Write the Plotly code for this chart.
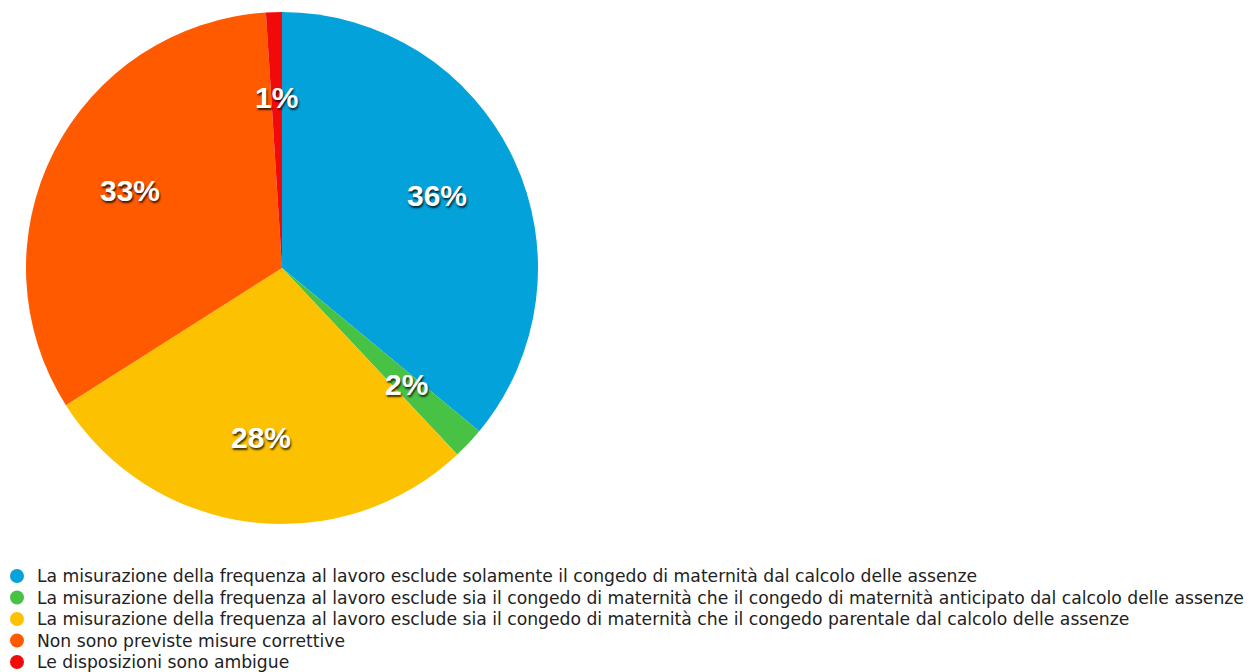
import math
import plotly.graph_objects as go

labels = [
    "La misurazione della frequenza al lavoro esclude solamente il congedo di maternità dal calcolo delle assenze",
    "La misurazione della frequenza al lavoro esclude sia il congedo di maternità che il congedo di maternità anticipato dal calcolo delle assenze",
    "La misurazione della frequenza al lavoro esclude sia il congedo di maternità che il congedo parentale dal calcolo delle assenze",
    "Non sono previste misure correttive",
    "Le disposizioni sono ambigue",
]
values = [36, 2, 28, 33, 1]
colors = ["#03A2DA", "#47C245", "#FCC100", "#FF5A00", "#F20A0A"]

W, H = 1253, 672
cx, cy, R = 282, 268, 256
dom_x = [(cx - R) / W, (cx + R) / W]
dom_y = [1 - (cy + R) / H, 1 - (cy - R) / H]

fig = go.Figure()
fig.add_trace(go.Pie(
    labels=labels, values=values, sort=False, direction="clockwise", rotation=0,
    marker=dict(colors=colors, line=dict(width=0)),
    textinfo="none", hoverinfo="label+percent", showlegend=False,
    domain=dict(x=dom_x, y=dom_y),
))

# percentage labels placed along mid-angle of each slice
total = sum(values)
cum = 0
for v in values:
    mid = (cum + v / 2) / total * 2 * math.pi
    cum += v
    r = 0.667 * R
    px = cx + r * math.sin(mid)
    py = cy - r * math.cos(mid)
    fig.add_annotation(
        x=px / W, y=1 - py / H, xref="paper", yref="paper",
        xanchor="center", yanchor="middle",
        text=f"{round(v / total * 100)}%", showarrow=False,
        font=dict(family="Liberation Sans, Arial, sans-serif", size=30, color="white",
                  weight="bold", shadow="1px 2px 2px rgba(0,0,0,0.75)"),
    )

# custom legend (circle markers + labels)
leg_top, leg_step = 576, 21.5
mk_x, mk_r, txt_x = 17, 7, 35
for i, (lab, col) in enumerate(zip(labels, colors)):
    yc = leg_top + i * leg_step
    fig.add_shape(
        type="circle", xref="paper", yref="paper",
        x0=(mk_x - mk_r) / W, x1=(mk_x + mk_r) / W,
        y0=1 - (yc + mk_r) / H, y1=1 - (yc - mk_r) / H,
        fillcolor=col, line=dict(width=0),
    )
    fig.add_annotation(
        x=txt_x / W, y=1 - yc / H, xref="paper", yref="paper",
        xanchor="left", yanchor="middle", showarrow=False, text=lab,
        font=dict(family="DejaVu Sans, Verdana, sans-serif", size=17.2, color="#222222"),
    )

fig.update_layout(
    width=W, height=H, margin=dict(l=0, r=0, t=0, b=0, autoexpand=False),
    paper_bgcolor="white", plot_bgcolor="white", showlegend=False,
)
fig.write_html("out.html")
